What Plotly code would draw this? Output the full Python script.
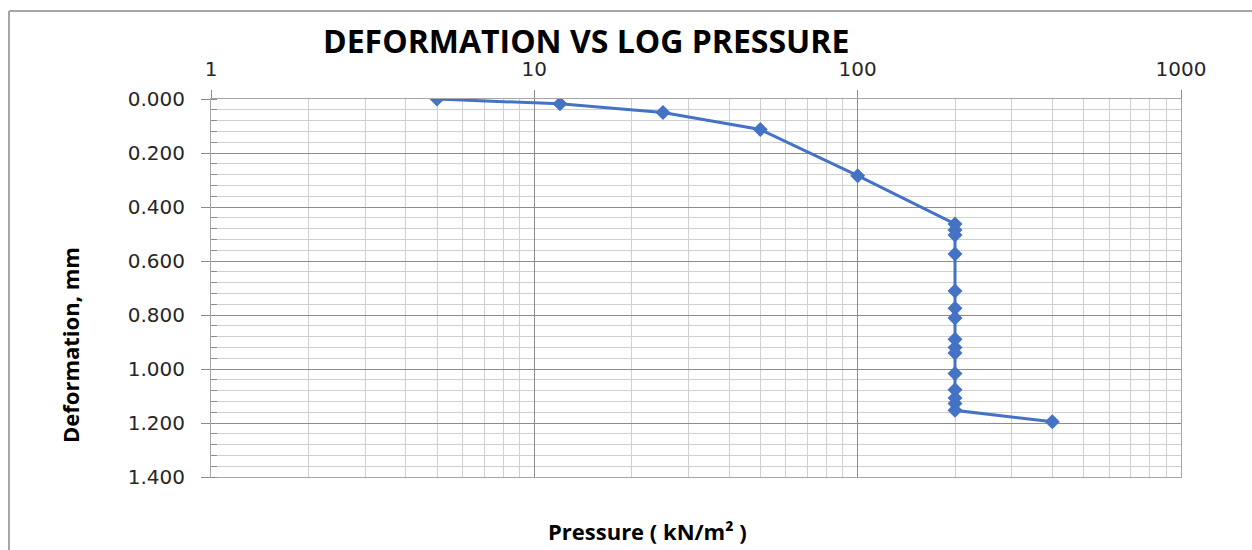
import plotly.graph_objects as go

# Consolidation readings: applied pressure (kN/m^2) and dial deformation (mm)
pressure = [5, 12, 25, 50, 100,
            200, 200, 200, 200, 200, 200, 200, 200, 200, 200,
            200, 200, 200, 200, 200,
            400]
deformation = [0.000, 0.018, 0.050, 0.113, 0.284,
               0.463, 0.485, 0.504, 0.574, 0.711, 0.775, 0.811, 0.890, 0.920, 0.941,
               1.017, 1.077, 1.107, 1.128, 1.153,
               1.195]

x_ticks = [1, 10, 100, 1000]
x_tick_text = ["1", "10", "100", "1000"]
y_ticks = [0.0, 0.2, 0.4, 0.6, 0.8, 1.0, 1.2, 1.4]

title_text = "DEFORMATION VS LOG PRESSURE"
x_title = "Pressure ( kN/m² )"
y_title = "Deformation, mm"

W, H = 1252, 550
L, R, T, B = 211, 71, 99, 73
pw, ph = W - L - R, H - T - B


def px_x(px):
    return (px - L) / pw


def px_y(py):
    return (H - B - py) / ph


BLUE = "#4472C4"
MAJOR = "#8c8c8c"
MINOR = "#d0d0d0"
TICKFONT = dict(family="DejaVu Sans", size=20, color="#262626")
BOLD = "Open Sans"

fig = go.Figure(
    go.Scatter(
        x=pressure,
        y=deformation,
        mode="lines+markers",
        line=dict(color=BLUE, width=3),
        marker=dict(symbol="diamond", size=11.5, color=BLUE),
        showlegend=False,
    )
)

fig.update_xaxes(
    type="log",
    side="top",
    range=[0, 3],
    tickvals=x_ticks,
    ticktext=x_tick_text,
    tickfont=TICKFONT,
    ticks="outside",
    ticklen=8,
    tickcolor=MAJOR,
    ticklabelstandoff=6,
    showgrid=True,
    gridcolor=MAJOR,
    gridwidth=1,
    minor=dict(dtick="D1", showgrid=True, gridcolor=MINOR, gridwidth=1, ticks=""),
    showline=True,
    linecolor="#a6a6a6",
    linewidth=1,
    mirror=True,
    zeroline=False,
)

fig.update_yaxes(
    range=[1.4, 0],
    tickvals=y_ticks,
    tickformat=".3f",
    tickfont=TICKFONT,
    ticks="outside",
    ticklen=9,
    tickcolor=MAJOR,
    ticklabelstandoff=12,
    showgrid=True,
    gridcolor=MAJOR,
    gridwidth=1,
    minor=dict(dtick=0.04, showgrid=True, gridcolor=MINOR, gridwidth=1,
               ticks="inside", ticklen=6, tickcolor=MAJOR),
    showline=True,
    linecolor="#a6a6a6",
    linewidth=1,
    mirror=True,
    zeroline=False,
)

# Chart-area frame (top and left edges)
frame = dict(color="#a6a6a6", width=2)
fig.add_shape(type="line", xref="paper", yref="paper",
              x0=px_x(9), x1=px_x(W + 5), y0=px_y(11), y1=px_y(11), line=frame)
fig.add_shape(type="line", xref="paper", yref="paper",
              x0=px_x(9), x1=px_x(9), y0=px_y(11), y1=px_y(H + 5), line=frame)

fig.add_annotation(text=f"<b>{title_text}</b>", xref="paper", yref="paper",
                   x=px_x(586), y=px_y(41), xanchor="center", yanchor="middle",
                   showarrow=False, font=dict(family=BOLD, size=32, color="#000000"))
fig.add_annotation(text=f"<b>{x_title}</b>", xref="paper", yref="paper",
                   x=px_x(647), y=px_y(531), xanchor="center", yanchor="middle",
                   showarrow=False, font=dict(family=BOLD, size=22, color="#000000"))
fig.add_annotation(text=f"<b>{y_title}</b>", xref="paper", yref="paper",
                   x=px_x(70), y=px_y(345), xanchor="center", yanchor="middle",
                   textangle=-90, showarrow=False,
                   font=dict(family=BOLD, size=22, color="#000000"))

fig.update_layout(
    width=W,
    height=H,
    autosize=False,
    margin=dict(l=L, r=R, t=T, b=B),
    paper_bgcolor="white",
    plot_bgcolor="white",
)

fig.write_html("out.html")
